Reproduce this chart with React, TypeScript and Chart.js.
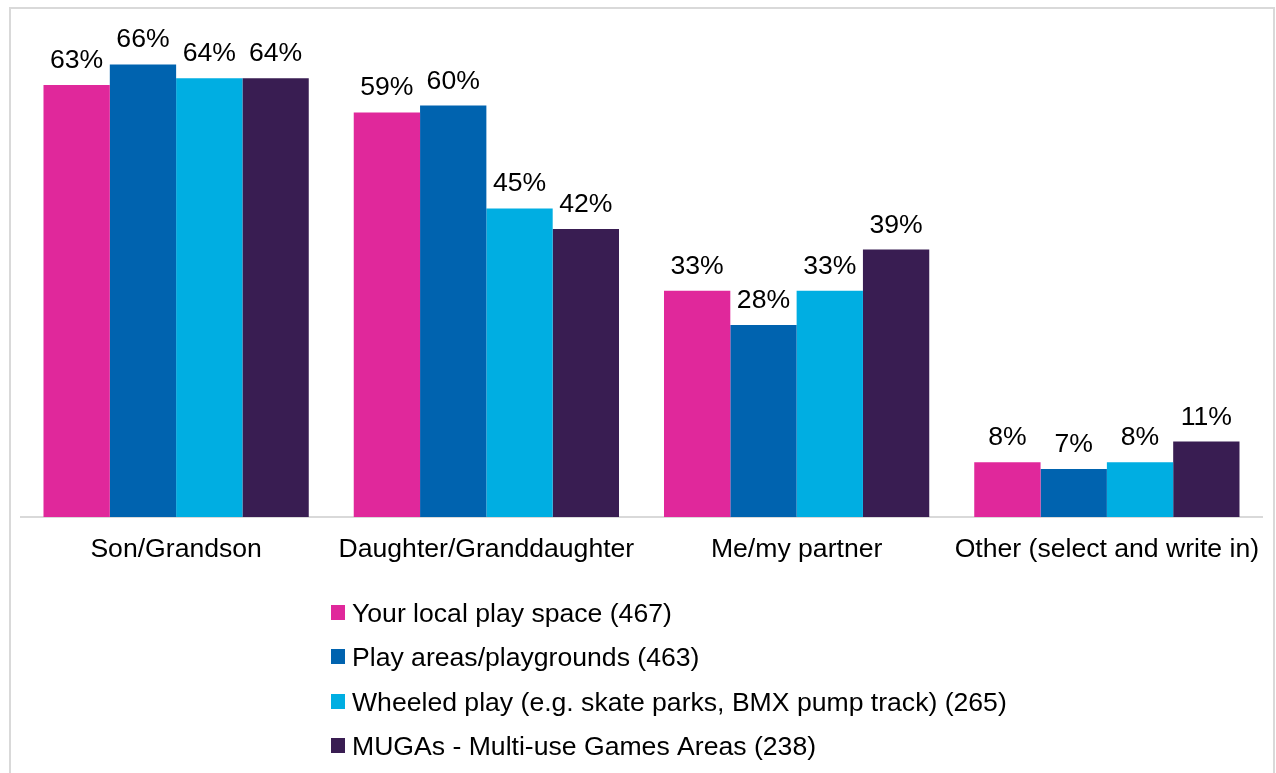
import React, { useEffect, useRef } from 'react';
import { Chart, registerables } from 'chart.js';

Chart.register(...registerables);

const categories = ['Son/Grandson', 'Daughter/Granddaughter', 'Me/my partner', 'Other (select and write in)'];
const seriesNames = [
  'Your local play space (467)',
  'Play areas/playgrounds (463)',
  'Wheeled play (e.g. skate parks, BMX pump track) (265)',
  'MUGAs - Multi-use Games Areas (238)',
];
const localPlaySpace = [63, 59, 33, 8];
const playAreas = [66, 60, 28, 7];
const wheeledPlay = [64, 45, 33, 8];
const mugas = [64, 42, 39, 11];
const seriesColors = ['#E0289B', '#0063AF', '#00AEE2', '#391D52'];
const yMin = 0;
const yMax = 70;

const FONT = '"Liberation Sans", Arial, Helvetica, sans-serif';
const FONT_SIZE = 26.6;

const dataLabelPlugin = {
  id: 'dataLabels',
  afterDatasetsDraw(chart: any) {
    const ctx = chart.ctx;
    ctx.save();
    ctx.font = `${FONT_SIZE}px ${FONT}`;
    ctx.fillStyle = '#000';
    ctx.textAlign = 'center';
    ctx.textBaseline = 'alphabetic';
    chart.data.datasets.forEach((ds: any, di: number) => {
      const meta = chart.getDatasetMeta(di);
      meta.data.forEach((el: any, i: number) => {
        ctx.fillText(`${ds.data[i]}%`, el.x, el.y - 17);
      });
    });
    ctx.restore();
  },
};

const legendPlugin = {
  id: 'customLegend',
  afterDraw(chart: any) {
    const ctx = chart.ctx;
    const area = chart.chartArea;
    ctx.save();
    ctx.font = `${FONT_SIZE}px ${FONT}`;
    ctx.textAlign = 'left';
    ctx.textBaseline = 'alphabetic';
    const left = 331;
    const firstRow = area.bottom + 95.5;
    const rowH = 44.3;
    chart.data.datasets.forEach((ds: any, i: number) => {
      const cy = firstRow + i * rowH;
      ctx.fillStyle = ds.backgroundColor;
      ctx.fillRect(left, Math.round(cy - 7.5), 14, 15);
      ctx.fillStyle = '#000';
      ctx.fillText(ds.label, left + 21, cy + 9.5);
    });
    ctx.restore();
  },
};

export default function App() {
  const canvasRef = useRef<HTMLCanvasElement | null>(null);

  useEffect(() => {
    document.body.style.margin = '0';
    const canvas = canvasRef.current;
    if (!canvas) return;
    const seriesValues = [localPlaySpace, playAreas, wheeledPlay, mugas];
    const chart = new Chart(canvas, {
      type: 'bar',
      data: {
        labels: categories,
        datasets: seriesValues.map((vals, i) => ({
          label: seriesNames[i],
          data: vals,
          backgroundColor: seriesColors[i],
          borderWidth: 0,
          categoryPercentage: 0.855,
          barPercentage: 1,
        })),
      },
      options: {
        animation: false,
        responsive: false,
        maintainAspectRatio: false,
        devicePixelRatio: 1,
        layout: { padding: { left: 21, right: 14, top: 37, bottom: 196 } },
        plugins: {
          legend: { display: false },
          tooltip: { enabled: false },
        },
        scales: {
          x: {
            grid: { display: false, drawTicks: false },
            border: { display: true, color: '#d9d9d9', width: 2 },
            ticks: {
              font: { size: FONT_SIZE, family: FONT },
              color: '#000',
              padding: 17,
              maxRotation: 0,
              minRotation: 0,
              autoSkip: false,
            },
            afterFit: (scale: any) => {
              scale.height = 60;
              scale.paddingLeft = 0;
              scale.paddingRight = 0;
            },
          },
          y: {
            display: false,
            min: yMin,
            max: yMax,
          },
        },
      },
      plugins: [dataLabelPlugin, legendPlugin],
    });
    return () => chart.destroy();
  }, []);

  return (
    <div style={{ position: 'fixed', left: 0, top: 0, width: 1276, height: 773, overflow: 'hidden', background: '#fff' }}>
      <div
        style={{
          position: 'absolute',
          left: 9,
          top: 7,
          width: 1266,
          height: 900,
          boxSizing: 'border-box',
          border: '2px solid #d9d9d9',
        }}
      />
      <canvas
        ref={canvasRef}
        width={1276}
        height={773}
        style={{ position: 'absolute', left: 0, top: 0, width: 1276, height: 773 }}
      />
    </div>
  );
}
